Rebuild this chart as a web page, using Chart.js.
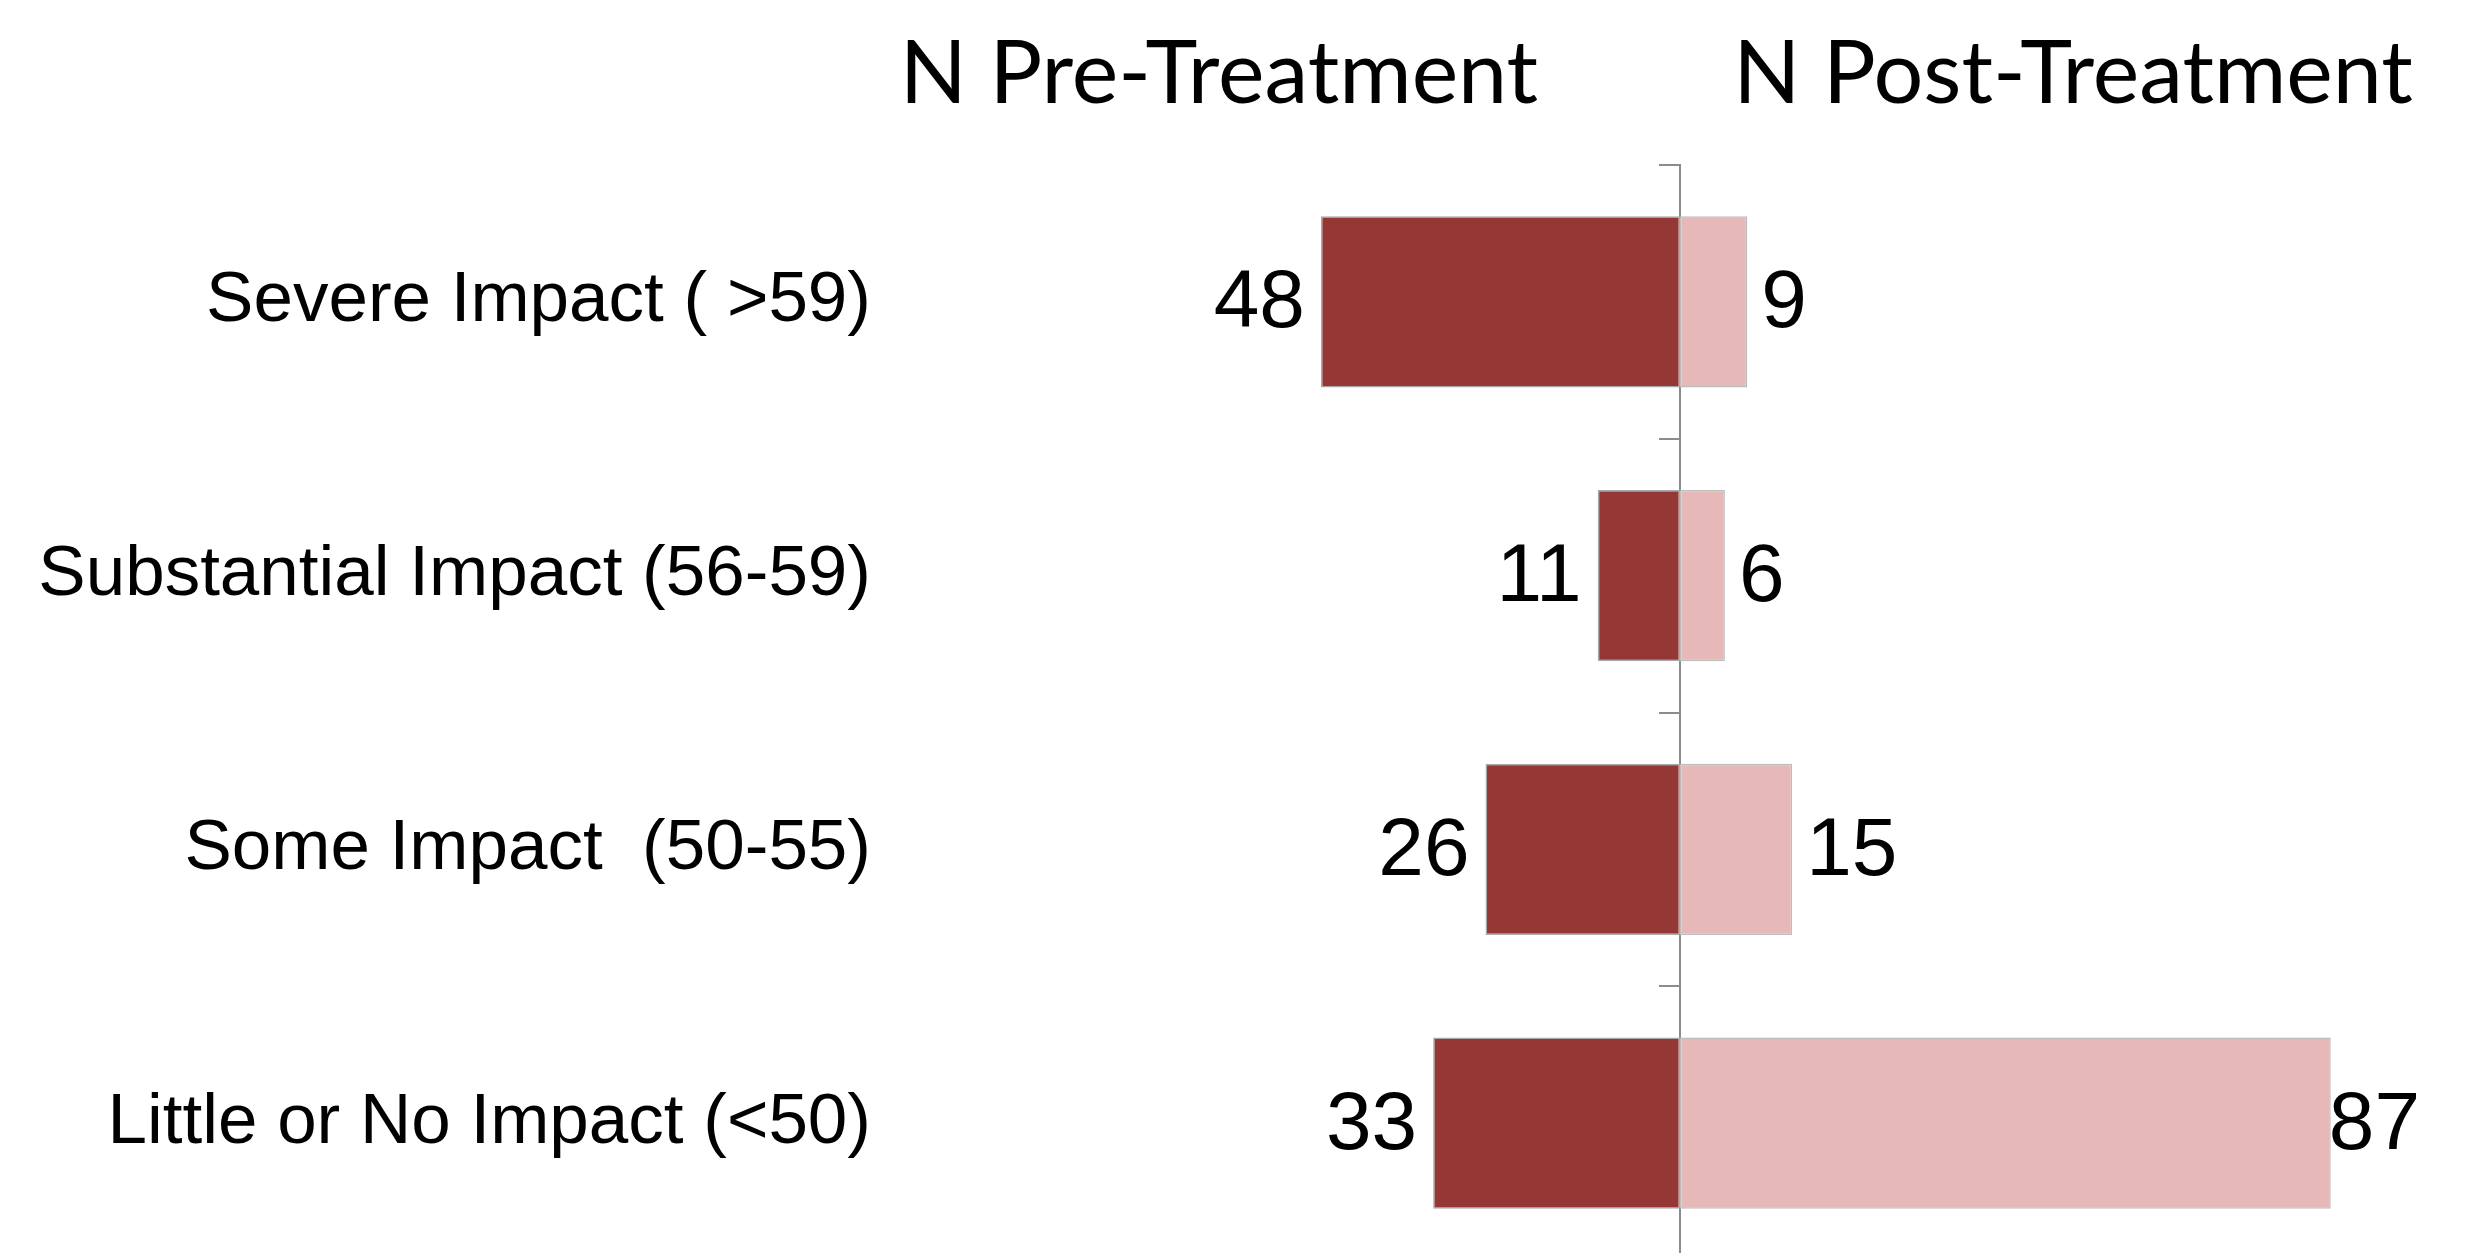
<!DOCTYPE html>
<html>
<head>
<meta charset="utf-8">
<script src="https://cdn.jsdelivr.net/npm/chart.js@4.4.1/dist/chart.umd.min.js"></script>
<style>
  html, body { margin: 0; padding: 0; background: #ffffff; overflow: hidden; width: 2465px; height: 1253px; }
  #c { display: block; }
</style>
</head>
<body>
<canvas id="c" width="2465" height="1260"></canvas>
<script>
// ---- data ----
const categories = [
  'Severe Impact ( >59)',
  'Substantial Impact (56-59)',
  'Some Impact  (50-55)',
  'Little or No Impact (<50)'
];
const preTreatment = [48, 11, 26, 33];
const postTreatment = [9, 6, 15, 87];
const headers = ['N Pre-Treatment', 'N Post-Treatment'];
const seriesNames = ['N Pre-Treatment', 'N Post-Treatment'];

const valueLabelPlugin = {
  id: 'valueLabels',
  afterDatasetsDraw(chart) {
    const ctx = chart.ctx;
    ctx.save();
    ctx.font = '82px "Liberation Sans", Arial, sans-serif';
    ctx.fillStyle = '#000000';
    ctx.textBaseline = 'middle';
    ctx.textAlign = 'left';
    const rightLimit = chart.chartArea.right - 8;
    chart.data.datasets.forEach((ds, di) => {
      const meta = chart.getDatasetMeta(di);
      meta.data.forEach((el, i) => {
        const txt = String(Math.abs(ds.data[i]));
        const w = ctx.measureText(txt).width;
        let x;
        if (di === 0) {
          x = el.x - 16 - w;
        } else {
          x = Math.min(el.x + 14, rightLimit - w);
        }
        ctx.fillText(txt, x, el.y + 3);
      });
    });
    ctx.restore();
  }
};

const headerPlugin = {
  id: 'headers',
  afterDraw(chart) {
    const ctx = chart.ctx;
    ctx.save();
    ctx.font = '88px Lato, "Open Sans", sans-serif';
    ctx.fillStyle = '#000000';
    ctx.textBaseline = 'alphabetic';
    ctx.textAlign = 'center';
    ctx.fillText(headers[0], 1219, 103);
    ctx.fillText(headers[1], 2073, 103);
    ctx.restore();
  }
};

new Chart(document.getElementById('c'), {
  type: 'bar',
  data: {
    labels: categories,
    datasets: [
      {
        label: seriesNames[0],
        data: preTreatment.map(v => -v),
        backgroundColor: '#953735',
        borderColor: '#a9a9a9',
        borderWidth: 1.5,
        borderSkipped: false,
        yAxisID: 'y'
      },
      {
        label: seriesNames[1],
        data: postTreatment,
        backgroundColor: '#E6B9B8',
        borderColor: '#bdbdbd',
        borderWidth: 1.5,
        borderSkipped: false,
        yAxisID: 'y'
      }
    ]
  },
  options: {
    indexAxis: 'y',
    responsive: false,
    animation: false,
    devicePixelRatio: 1,
    layout: { padding: { top: 165, left: 0, right: 37, bottom: 0 } },
    plugins: {
      legend: { display: false },
      title: { display: false },
      tooltip: { enabled: false }
    },
    datasets: { bar: { categoryPercentage: 1.0, barPercentage: 0.625 } },
    scales: {
      x: {
        type: 'linear',
        stacked: true,
        min: -100,
        max: 100,
        display: false
      },
      y: {
        type: 'category',
        axis: 'y',
        position: 'left',
        stacked: true,
        offset: true,
        grid: { display: false },
        border: { display: false },
        ticks: {
          color: '#000000',
          padding: 53,
          font: { family: '"Liberation Sans", Arial, sans-serif', size: 71 }
        },
        afterFit(scale) {
          scale.width = 932;
          scale.paddingTop = 0;
          scale.paddingBottom = 0;
        }
      },
      yc: {
        type: 'category',
        axis: 'y',
        position: { x: 0 },
        offset: true,
        labels: categories,
        grid: {
          offset: true,
          drawOnChartArea: false,
          drawTicks: true,
          tickLength: 20,
          color: '#8c8c8c',
          lineWidth: 2
        },
        border: { display: true, color: '#8c8c8c', width: 2 },
        ticks: { display: false },
        afterFit(scale) {
          scale.width = 0;
          scale.paddingTop = 0;
          scale.paddingBottom = 0;
        }
      }
    }
  },
  plugins: [valueLabelPlugin, headerPlugin]
});
</script>
</body>
</html>
